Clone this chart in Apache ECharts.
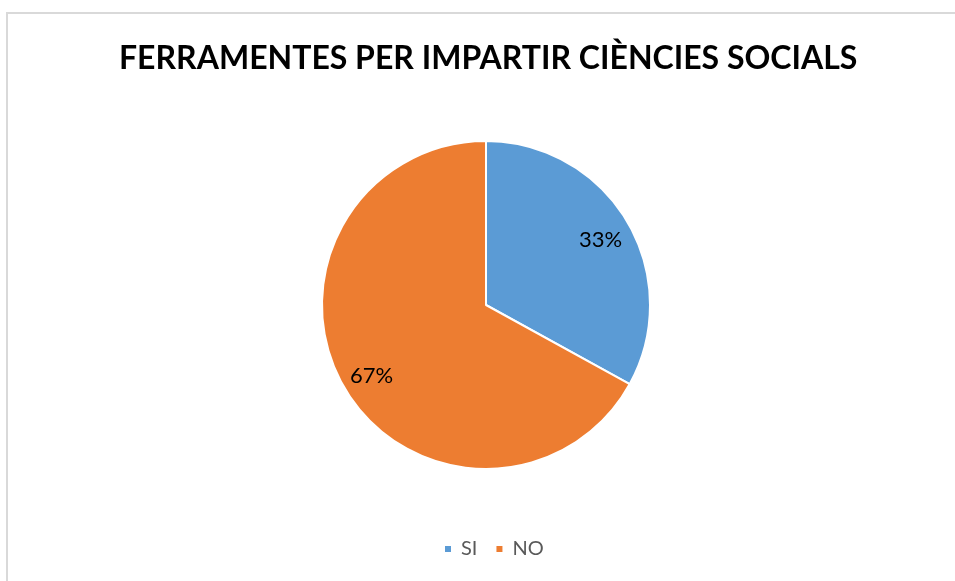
<!DOCTYPE html>
<html>
<head>
<meta charset="utf-8">
<script src="https://cdn.jsdelivr.net/npm/echarts@6/dist/echarts.min.js"></script>
<style>
  html, body { margin: 0; padding: 0; background: #fff; }
  #frame {
    position: absolute; left: 6px; top: 12px; width: 960px; height: 590px;
    border: 2px solid #d9d9d9; box-sizing: border-box;
  }
  #chart { position: absolute; left: 0; top: 0; width: 955px; height: 581px; }
</style>
</head>
<body>
<div id="frame"></div>
<div id="chart"></div>
<script>
const categories = ["SI", "NO"];
const shares = [33, 67];
const colors = ["#5b9bd5", "#ed7d31"];

const pieData = categories.map((name, i) => ({
  name: name,
  value: shares[i],
  itemStyle: { color: colors[i] }
}));

const myChart = echarts.init(document.getElementById("chart"));

const option = {
  animation: false,
  title: {
    text: "FERRAMENTES PER IMPARTIR CIÈNCIES SOCIALS",
    left: 114,
    top: 38,
    textStyle: {
      fontFamily: "Lato",
      fontWeight: "bold",
      fontSize: 32,
      color: "#000"
    }
  },
  legend: {
    data: categories,
    bottom: 17,
    left: 438,
    icon: "rect",
    itemWidth: 8,
    itemHeight: 8,
    itemGap: 17,
    textStyle: {
      fontFamily: "Lato",
      fontSize: 20,
      color: "#595959",
      padding: [0, 0, 0, 4]
    }
  },
  series: [
    {
      name: "main",
      type: "pie",
      center: [486, 305],
      radius: [0, 164],
      startAngle: 90,
      clockwise: true,
      label: { show: false },
      labelLine: { show: false },
      itemStyle: { borderColor: "#fff", borderWidth: 2 },
      data: pieData
    },
    {
      name: "labels",
      type: "pie",
      silent: true,
      center: [486, 308],
      radius: [96, 164],
      startAngle: 90,
      clockwise: true,
      itemStyle: { color: "transparent" },
      label: {
        show: true,
        position: "inside",
        formatter: "{d}%",
        fontFamily: "Lato",
        fontSize: 22,
        color: "#000"
      },
      labelLine: { show: false },
      data: categories.map((name, i) => ({ name: name, value: shares[i] }))
    }
  ]
};

myChart.setOption(option);
</script>
</body>
</html>
